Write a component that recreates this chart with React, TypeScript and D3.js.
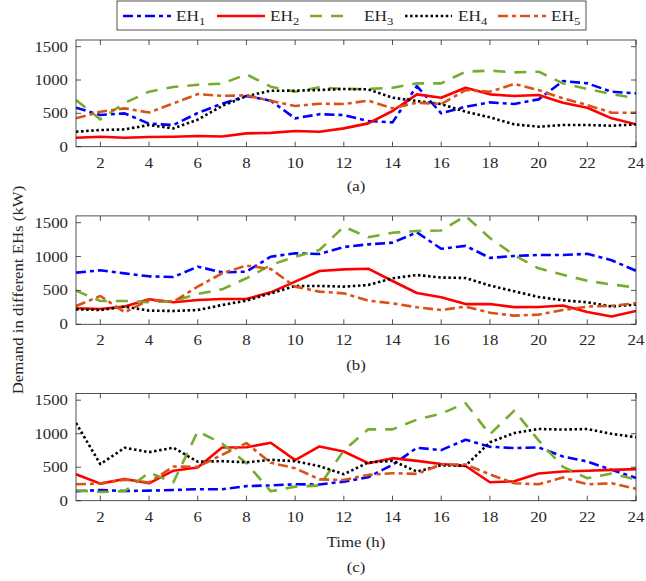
import React from "react";
import * as d3 from "d3";

const hours = d3.range(1, 25);
const seriesNames = ["EH1", "EH2", "EH3", "EH4", "EH5"];
const xTicks = [2, 4, 6, 8, 10, 12, 14, 16, 18, 20, 22, 24];
const yTicks = [0, 500, 1000, 1500];
const panelLabels = ["(a)", "(b)", "(c)"];

// Panel (a)
const a_EH1 = [585, 475, 500, 345, 325, 505, 645, 760, 690, 425, 488, 475, 385, 365, 910, 500, 600, 665, 640, 710, 985, 950, 825, 800];
const a_EH2 = [135, 150, 135, 145, 150, 160, 152, 200, 208, 235, 225, 275, 350, 535, 785, 735, 885, 785, 760, 775, 660, 585, 425, 335];
const a_EH3 = [700, 410, 655, 825, 895, 930, 945, 1085, 900, 825, 890, 865, 865, 885, 950, 950, 1125, 1140, 1115, 1125, 950, 865, 790, 725];
const a_EH4 = [225, 250, 260, 325, 275, 405, 610, 758, 840, 840, 850, 865, 860, 735, 685, 640, 525, 440, 335, 300, 325, 325, 315, 335];
const a_EH5 = [425, 525, 575, 512, 650, 788, 762, 770, 688, 610, 645, 640, 690, 575, 660, 640, 850, 825, 940, 850, 725, 625, 510, 510];

// Panel (b)
const b_EH1 = [762, 797, 752, 708, 698, 851, 767, 777, 998, 1048, 1038, 1141, 1180, 1205, 1357, 1115, 1158, 980, 1009, 1023, 1023, 1040, 945, 790];
const b_EH2 = [236, 226, 261, 369, 325, 359, 374, 374, 472, 630, 787, 811, 821, 639, 462, 400, 298, 300, 253, 256, 278, 182, 115, 197];
const b_EH3 = [497, 344, 344, 325, 344, 448, 516, 679, 875, 998, 1097, 1441, 1284, 1352, 1377, 1385, 1600, 1274, 1020, 826, 733, 642, 588, 543];
const b_EH4 = [221, 211, 261, 202, 197, 211, 285, 349, 457, 566, 566, 556, 580, 679, 728, 690, 684, 573, 487, 403, 354, 325, 263, 290];
const b_EH5 = [270, 418, 177, 359, 334, 556, 752, 866, 816, 556, 482, 457, 349, 310, 251, 211, 261, 170, 128, 143, 211, 261, 273, 310];

// Panel (c)
const c_EH1 = [140, 160, 145, 150, 160, 172, 172, 218, 228, 245, 242, 285, 350, 535, 790, 755, 910, 805, 785, 795, 660, 585, 460, 340];
const c_EH2 = [395, 255, 325, 260, 448, 495, 795, 798, 865, 605, 810, 735, 560, 635, 595, 548, 518, 275, 290, 405, 435, 448, 460, 472];
const c_EH3 = [155, 130, 142, 420, 275, 1035, 855, 560, 140, 210, 225, 750, 1065, 1065, 1210, 1300, 1455, 990, 1345, 900, 505, 335, 405, 320];
const c_EH4 = [1160, 545, 790, 725, 790, 582, 590, 572, 610, 590, 515, 395, 570, 595, 435, 528, 522, 872, 1010, 1070, 1062, 1070, 998, 948];
const c_EH5 = [245, 255, 315, 272, 510, 505, 685, 860, 565, 485, 318, 310, 385, 410, 400, 540, 540, 392, 260, 245, 345, 245, 260, 178];

const panelData = [
  [a_EH1, a_EH2, a_EH3, a_EH4, a_EH5],
  [b_EH1, b_EH2, b_EH3, b_EH4, b_EH5],
  [c_EH1, c_EH2, c_EH3, c_EH4, c_EH5],
];

const colors = ["#0000FF", "#FF0000", "#77AC30", "#000000", "#D95319"];
const dashes = ["10,4,4,4", "none", "12,9", "2.5,2.6", "10,4,4,4"];

const W = 646;
const H = 581;
const left = 76;
const right = 636;
const panels = [
  { top: 40, bottom: 146.7 },
  { top: 215.9, bottom: 324.3 },
  { top: 393.5, bottom: 500.7 },
];

const FONT = "'Liberation Serif', 'Times New Roman', serif";
const AX = "#262626";

function SText({ x, y, anchor = "middle", size = 14, children, rotate = 0 }: any) {
  return (
    <text
      transform={`translate(${x},${y}) rotate(${rotate}) scale(1.2,1)`}
      textAnchor={anchor}
      fontFamily={FONT}
      fontSize={size}
      fill={AX}
    >
      {children}
    </text>
  );
}

export default function App() {
  const x = d3.scaleLinear().domain([1, 24]).range([left, right]);
  const legendItems = [
    { x0: 123, x1: 171, tx: 176 },
    { x0: 217, x1: 265, tx: 270 },
    { x0: 310, x1: 349, tx: 364 },
    { x0: 405, x1: 452, tx: 458 },
    { x0: 498, x1: 546, tx: 551 },
  ];
  return (
    <svg width={W} height={H} style={{ position: "absolute", left: 0, top: 0, background: "#fff" }}>
      <rect x={0} y={0} width={W} height={H} fill="#fff" />
      {panels.map((p, pi) => {
        const y = d3.scaleLinear().domain([0, 1600]).range([p.bottom, p.top]);
        const line = d3
          .line<number>()
          .x((_, i) => x(hours[i]))
          .y((d) => y(d));
        return (
          <g key={pi}>
            <defs>
              <clipPath id={`clip${pi}`}>
                <rect x={left} y={p.top - 2} width={right - left} height={p.bottom - p.top + 2} />
              </clipPath>
            </defs>
            <g clipPath={`url(#clip${pi})`}>
              {panelData[pi].map((s, si) => (
                <path
                  key={si}
                  d={line(s) || ""}
                  fill="none"
                  stroke={colors[si]}
                  strokeWidth={2.6}
                  strokeDasharray={dashes[si]}
                  strokeLinejoin="round"
                />
              ))}
            </g>
            <rect x={left} y={p.top} width={right - left} height={p.bottom - p.top} fill="none" stroke={AX} strokeWidth={0.8} />
            {xTicks.map((t) => (
              <g key={t}>
                <line x1={x(t)} x2={x(t)} y1={p.bottom} y2={p.bottom - 5} stroke={AX} strokeWidth={0.8} />
                <line x1={x(t)} x2={x(t)} y1={p.top} y2={p.top + 5} stroke={AX} strokeWidth={0.8} />
                <SText x={x(t)} y={p.bottom + 21}>{t}</SText>
              </g>
            ))}
            {yTicks.map((t) => (
              <g key={t}>
                <line x1={left} x2={left + 5} y1={y(t)} y2={y(t)} stroke={AX} strokeWidth={0.8} />
                <line x1={right} x2={right - 5} y1={y(t)} y2={y(t)} stroke={AX} strokeWidth={0.8} />
                <SText x={68} y={y(t) + 5} anchor="end">{t}</SText>
              </g>
            ))}
          </g>
        );
      })}
      <SText x={356} y={191}>{panelLabels[0]}</SText>
      <SText x={356} y={370}>{panelLabels[1]}</SText>
      <SText x={356} y={547}>Time (h)</SText>
      <SText x={356} y={572}>{panelLabels[2]}</SText>
      <SText x={23} y={290} rotate={-90}>Demand in different EHs (kW)</SText>
      <rect x={117} y={1} width={469} height={29} fill="#fff" stroke={AX} strokeWidth={0.8} />
      {legendItems.map((it, i) => (
        <g key={i}>
          <line x1={it.x0} x2={it.x1} y1={16} y2={16} stroke={colors[i]} strokeWidth={2.6} strokeDasharray={dashes[i]} />
          <text x={it.tx} y={21} fontFamily={FONT} fontSize={15} fill={AX} transform={`translate(${it.tx},0) scale(1.15,1) translate(${-it.tx},0)`}>
            EH<tspan fontSize={11} dy={4}>{i + 1}</tspan>
          </text>
        </g>
      ))}
    </svg>
  );
}
